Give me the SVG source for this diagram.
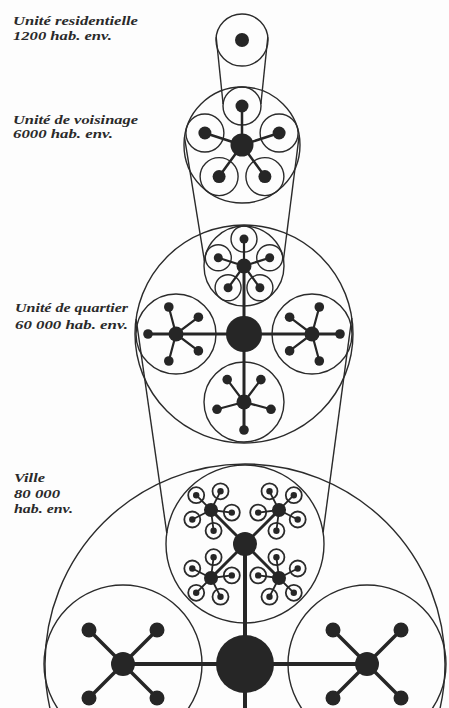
<svg xmlns="http://www.w3.org/2000/svg" width="449" height="708" viewBox="0 0 449 708">
<style>
.c{fill:none;stroke:#2b2b2b;stroke-width:1.4}
.r{fill:none;stroke:#2b2b2b;stroke-width:1.8}
.d{fill:#262626}
.s{stroke:#262626;stroke-linecap:round;fill:none}
.t{font-family:"Liberation Serif",serif;font-style:italic;font-weight:bold;font-size:12.5px;fill:#2a2a2a}
</style>
<rect width="449" height="708" fill="#fdfdfd"/>

<g id="label-residentielle" class="t">
<text x="13" y="25" textLength="125" lengthAdjust="spacingAndGlyphs">Unité residentielle</text>
<text x="13" y="40" textLength="99" lengthAdjust="spacingAndGlyphs">1200 hab. env.</text>
</g>
<g id="label-voisinage" class="t">
<text x="13" y="124" textLength="125" lengthAdjust="spacingAndGlyphs">Unité de voisinage</text>
<text x="13" y="138" textLength="100" lengthAdjust="spacingAndGlyphs">6000 hab. env.</text>
</g>
<g id="label-quartier" class="t">
<text x="15" y="312" textLength="113" lengthAdjust="spacingAndGlyphs">Unité de quartier</text>
<text x="15" y="329" textLength="113" lengthAdjust="spacingAndGlyphs">60 000 hab. env.</text>
</g>
<g id="label-ville" class="t">
<text x="14" y="482" textLength="31" lengthAdjust="spacingAndGlyphs">Ville</text>
<text x="14" y="498" textLength="46" lengthAdjust="spacingAndGlyphs">80 000</text>
<text x="14" y="513" textLength="59" lengthAdjust="spacingAndGlyphs">hab. env.</text>
</g>

<g id="connectors" class="c">
<line x1="216.2" y1="37.2" x2="223.1" y2="104"/>
<line x1="267.8" y1="37.2" x2="260.9" y2="104"/>
<line x1="184.5" y1="137.3" x2="204.4" y2="260.7"/>
<line x1="299.2" y1="135.4" x2="283.5" y2="259.4"/>
<line x1="136.1" y1="318.9" x2="166.8" y2="533.1"/>
<line x1="351.8" y1="317.9" x2="323.1" y2="532.3"/>
</g>

<g id="level1">
<circle class="c" cx="242" cy="40" r="26"/>
<circle class="d" cx="242" cy="40" r="7"/>
</g>

<g id="level2">
<circle class="c" cx="242" cy="145" r="58"/>
<circle class="c" cx="242" cy="106" r="19"/>
<circle class="c" cx="279.1" cy="133" r="19"/>
<circle class="c" cx="264.9" cy="176.6" r="19"/>
<circle class="c" cx="219.1" cy="176.6" r="19"/>
<circle class="c" cx="204.9" cy="133" r="19"/>
<path class="s" stroke-width="2.5" d="M242 145L242 106M242 145L279.1 133M242 145L264.9 176.6M242 145L219.1 176.6M242 145L204.9 133"/>
<circle class="d" cx="242" cy="145" r="11.5"/>
<circle class="d" cx="242" cy="106" r="6.5"/>
<circle class="d" cx="279.1" cy="133" r="6.5"/>
<circle class="d" cx="264.9" cy="176.6" r="6.5"/>
<circle class="d" cx="219.1" cy="176.6" r="6.5"/>
<circle class="d" cx="204.9" cy="133" r="6.5"/>
</g>

<g id="level3">
<circle class="c" cx="244" cy="334" r="109"/>
<circle class="c" cx="244" cy="266" r="40"/>
<circle class="c" cx="176" cy="334" r="40"/>
<circle class="c" cx="312" cy="334" r="40"/>
<circle class="c" cx="244" cy="402" r="40"/>
<circle class="c" cx="244" cy="239" r="13"/>
<circle class="c" cx="269.7" cy="257.7" r="13"/>
<circle class="c" cx="259.9" cy="287.8" r="13"/>
<circle class="c" cx="228.1" cy="287.8" r="13"/>
<circle class="c" cx="218.3" cy="257.7" r="13"/>
<path class="s" stroke-width="3" d="M148 334L340 334M244 266L244 430"/>
<path class="s" stroke-width="2.2" d="M244 266L244 239M244 266L269.7 257.7M244 266L259.9 287.8M244 266L228.1 287.8M244 266L218.3 257.7
M176 334L168.8 307M176 334L168.8 361M176 334L198.4 317.2M176 334L198.4 350.9
M312 334L319.3 307M312 334L319.3 361M312 334L289.6 317.2M312 334L289.6 350.9
M244 402L217 409.3M244 402L271 409.3M244 402L227.2 379.6M244 402L260.9 379.6"/>
<circle class="d" cx="244" cy="334" r="18"/>
<circle class="d" cx="244" cy="266" r="7.5"/>
<circle class="d" cx="244" cy="239" r="4.5"/>
<circle class="d" cx="269.7" cy="257.7" r="4.5"/>
<circle class="d" cx="259.9" cy="287.8" r="4.5"/>
<circle class="d" cx="228.1" cy="287.8" r="4.5"/>
<circle class="d" cx="218.3" cy="257.7" r="4.5"/>
<circle class="d" cx="176" cy="334" r="7.5"/>
<circle class="d" cx="148" cy="334" r="4.8"/>
<circle class="d" cx="168.8" cy="307" r="4.8"/>
<circle class="d" cx="168.8" cy="361" r="4.8"/>
<circle class="d" cx="198.4" cy="317.2" r="4.8"/>
<circle class="d" cx="198.4" cy="350.9" r="4.8"/>
<circle class="d" cx="312" cy="334" r="7.5"/>
<circle class="d" cx="340" cy="334" r="4.8"/>
<circle class="d" cx="319.3" cy="307" r="4.8"/>
<circle class="d" cx="319.3" cy="361" r="4.8"/>
<circle class="d" cx="289.6" cy="317.2" r="4.8"/>
<circle class="d" cx="289.6" cy="350.9" r="4.8"/>
<circle class="d" cx="244" cy="402" r="7.5"/>
<circle class="d" cx="244" cy="430" r="4.8"/>
<circle class="d" cx="217" cy="409.3" r="4.8"/>
<circle class="d" cx="271" cy="409.3" r="4.8"/>
<circle class="d" cx="227.2" cy="379.6" r="4.8"/>
<circle class="d" cx="260.9" cy="379.6" r="4.8"/>
</g>

<g id="level4">
<circle class="c" cx="245" cy="664" r="200"/>
<circle class="c" cx="245" cy="544" r="79"/>
<circle class="c" cx="123" cy="664" r="79"/>
<circle class="c" cx="367" cy="664" r="79"/>
<path class="s" stroke-width="4" d="M123 664L367 664M245 544L245 712"/>
<path class="s" stroke-width="3.5" d="M89 630L157 698M157 630L89 698M333 630L401 698M401 630L333 698"/>
<path class="s" stroke-width="3" d="M211 510L279 578M279 510L211 578"/>
<g class="r">
<circle cx="196.2" cy="495.2" r="8"/><circle cx="220.5" cy="491.3" r="8"/><circle cx="192.3" cy="519.5" r="8"/><circle cx="231.8" cy="512.6" r="8"/><circle cx="213.6" cy="530.8" r="8"/>
<circle cx="293.8" cy="495.2" r="8"/><circle cx="269.5" cy="491.3" r="8"/><circle cx="297.7" cy="519.5" r="8"/><circle cx="258.2" cy="512.6" r="8"/><circle cx="276.4" cy="530.8" r="8"/>
<circle cx="196.2" cy="592.8" r="8"/><circle cx="220.5" cy="596.7" r="8"/><circle cx="192.3" cy="568.5" r="8"/><circle cx="231.8" cy="575.4" r="8"/><circle cx="213.6" cy="557.2" r="8"/>
<circle cx="293.8" cy="592.8" r="8"/><circle cx="269.5" cy="596.7" r="8"/><circle cx="297.7" cy="568.5" r="8"/><circle cx="258.2" cy="575.4" r="8"/><circle cx="276.4" cy="557.2" r="8"/>
</g>
<path class="s" stroke-width="1.8" d="M211 510L196.2 495.2M211 510L220.5 491.3M211 510L192.3 519.5M211 510L231.8 512.6M211 510L213.6 530.8
M279 510L293.8 495.2M279 510L269.5 491.3M279 510L297.7 519.5M279 510L258.2 512.6M279 510L276.4 530.8
M211 578L196.2 592.8M211 578L220.5 596.7M211 578L192.3 568.5M211 578L231.8 575.4M211 578L213.6 557.2
M279 578L293.8 592.8M279 578L269.5 596.7M279 578L297.7 568.5M279 578L258.2 575.4M279 578L276.4 557.2"/>
<g class="d">
<circle cx="196.2" cy="495.2" r="3.2"/><circle cx="220.5" cy="491.3" r="3.2"/><circle cx="192.3" cy="519.5" r="3.2"/><circle cx="231.8" cy="512.6" r="3.2"/><circle cx="213.6" cy="530.8" r="3.2"/>
<circle cx="293.8" cy="495.2" r="3.2"/><circle cx="269.5" cy="491.3" r="3.2"/><circle cx="297.7" cy="519.5" r="3.2"/><circle cx="258.2" cy="512.6" r="3.2"/><circle cx="276.4" cy="530.8" r="3.2"/>
<circle cx="196.2" cy="592.8" r="3.2"/><circle cx="220.5" cy="596.7" r="3.2"/><circle cx="192.3" cy="568.5" r="3.2"/><circle cx="231.8" cy="575.4" r="3.2"/><circle cx="213.6" cy="557.2" r="3.2"/>
<circle cx="293.8" cy="592.8" r="3.2"/><circle cx="269.5" cy="596.7" r="3.2"/><circle cx="297.7" cy="568.5" r="3.2"/><circle cx="258.2" cy="575.4" r="3.2"/><circle cx="276.4" cy="557.2" r="3.2"/>
<circle cx="211" cy="510" r="7"/><circle cx="279" cy="510" r="7"/><circle cx="211" cy="578" r="7"/><circle cx="279" cy="578" r="7"/>
<circle cx="245" cy="544" r="12"/>
<circle cx="245" cy="664" r="29"/>
<circle cx="123" cy="664" r="12"/>
<circle cx="367" cy="664" r="12"/>
<circle cx="89" cy="630" r="7.5"/><circle cx="157" cy="630" r="7.5"/><circle cx="89" cy="698" r="7.5"/><circle cx="157" cy="698" r="7.5"/>
<circle cx="333" cy="630" r="7.5"/><circle cx="401" cy="630" r="7.5"/><circle cx="333" cy="698" r="7.5"/><circle cx="401" cy="698" r="7.5"/>
</g>
</g>
</svg>
